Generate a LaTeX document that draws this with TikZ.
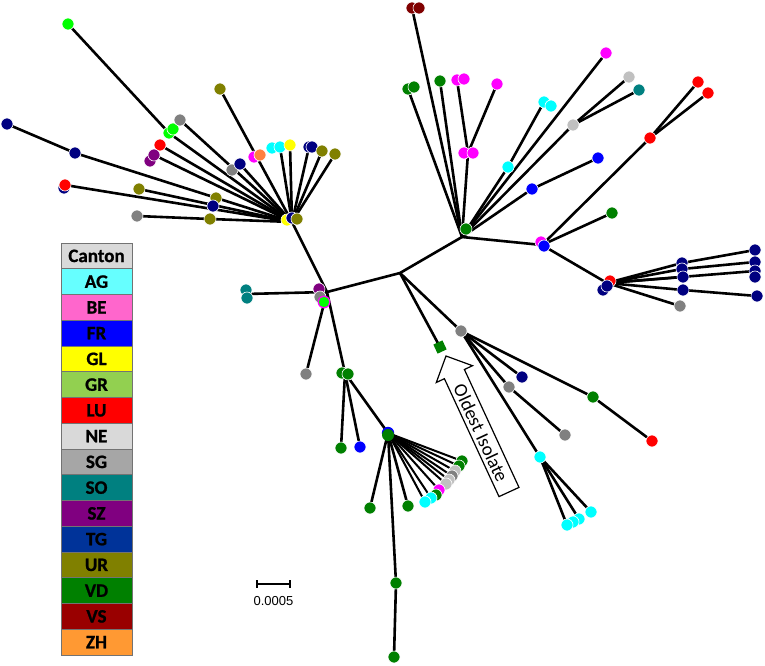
\documentclass[tikz,border=0pt]{standalone}
\usepackage{fontspec}
\setmainfont{Carlito}
\newfontfamily\legfont{Carlito}[BoldFeatures={FakeBold=1}]
\newfontfamily\arialf{Liberation Sans}
\definecolor{AGc}{HTML}{00FFFF}
\definecolor{BEc}{HTML}{FF00FF}
\definecolor{FRc}{HTML}{0000FF}
\definecolor{GLc}{HTML}{FFFF00}
\definecolor{GRc}{HTML}{00FF00}
\definecolor{LUc}{HTML}{FF0000}
\definecolor{NEc}{HTML}{C0C0C0}
\definecolor{SGc}{HTML}{808080}
\definecolor{SOc}{HTML}{008080}
\definecolor{SZc}{HTML}{800080}
\definecolor{TGc}{HTML}{000080}
\definecolor{URc}{HTML}{808000}
\definecolor{VDc}{HTML}{008000}
\definecolor{VSc}{HTML}{800000}
\definecolor{ZHc}{HTML}{FF8040}
\definecolor{LgCanton}{HTML}{D9D9D9}
\definecolor{LgAG}{HTML}{66FFFF}
\definecolor{LgBE}{HTML}{FF66CC}
\definecolor{LgFR}{HTML}{0000FF}
\definecolor{LgGL}{HTML}{FFFF00}
\definecolor{LgGR}{HTML}{92D050}
\definecolor{LgLU}{HTML}{FF0000}
\definecolor{LgNE}{HTML}{D9D9D9}
\definecolor{LgSG}{HTML}{A6A6A6}
\definecolor{LgSO}{HTML}{008080}
\definecolor{LgSZ}{HTML}{800080}
\definecolor{LgTG}{HTML}{003399}
\definecolor{LgUR}{HTML}{808000}
\definecolor{LgVD}{HTML}{008000}
\definecolor{LgVS}{HTML}{990000}
\definecolor{LgZH}{HTML}{FF9933}
\tikzset{
  edge/.style={line width=2.6pt, black},
  dotp/.style={draw=white, line width=0.6pt},
  legcell/.style={rectangle, draw=black!55, line width=0.7pt, minimum width=71pt, minimum height=25.75pt, inner sep=0pt, font=\legfont\bfseries\fontsize{19}{19}\selectfont, text=black},
}
\begin{document}
\begin{tikzpicture}[x=1pt,y=-1pt]
\useasboundingbox (0,0) rectangle (765,666);
% ---- internal coordinates
\coordinate (C) at (400,273);
\coordinate (H1) at (462,237);
\coordinate (J2) at (542,245);
\coordinate (HR) at (607,283);
\coordinate (HL) at (292,222);
\coordinate (J3) at (327,292);
\coordinate (G1) at (345,373);
\coordinate (H2) at (388,433);
\coordinate (GM) at (461,331);
% ---- top right (H1)
\coordinate (vs1) at (412,8); \coordinate (vs2) at (419,8);
\coordinate (gp1) at (408,89); \coordinate (gp2) at (414,87);
\coordinate (g3) at (440,81);
\coordinate (mb) at (468,153); \coordinate (mb1) at (464,153); \coordinate (mb2) at (473,153);
\coordinate (m1) at (457,80); \coordinate (m1b) at (464,79); \coordinate (m2) at (497,84);
\coordinate (c1) at (508,167); \coordinate (c2) at (544,102); \coordinate (c3) at (551,106);
\coordinate (m3) at (606,53);
\coordinate (s1) at (573,125); \coordinate (s2) at (629,77); \coordinate (t1) at (639,90);
\coordinate (b1) at (532,189); \coordinate (b2) at (598,158);
\coordinate (g4) at (466,229);
% ---- J2
\coordinate (m4) at (541,242); \coordinate (b3) at (544,246);
\coordinate (r1) at (650,138); \coordinate (r2) at (698,82); \coordinate (r3) at (708,93);
\coordinate (g5) at (612,213);
% ---- right cluster
\coordinate (hr1) at (603,290); \coordinate (hr2) at (607,286); \coordinate (r4) at (610,281);
\coordinate (na) at (682,263); \coordinate (nb) at (682,269);
\coordinate (n1) at (755,250); \coordinate (n2) at (755,262); \coordinate (n3) at (755,271); \coordinate (n4) at (755,277);
\coordinate (n5) at (683,277); \coordinate (n6) at (683,290); \coordinate (n7) at (757,296);
\coordinate (sgr) at (680,306);
% ---- top left (HL)
\coordinate (lm1) at (68,24); \coordinate (lm2) at (169,133); \coordinate (lm3) at (173,129);
\coordinate (sg1) at (180,120); \coordinate (sg2) at (232,170);
\coordinate (ol1) at (220,89); \coordinate (mg) at (254,157); \coordinate (zh) at (260,155);
\coordinate (tg1) at (7,124); \coordinate (tg2) at (75,153); \coordinate (ol2) at (216,198);
\coordinate (lu1) at (160,145);
\coordinate (sz1) at (150,161); \coordinate (sz2) at (154,155);
\coordinate (tg3) at (240,164);
\coordinate (ag1) at (272,148); \coordinate (ag2) at (280,147);
\coordinate (gl1) at (290,145);
\coordinate (tg4) at (309,147); \coordinate (tg4b) at (312,147);
\coordinate (ol3) at (322,151); \coordinate (ol4) at (335,154);
\coordinate (tg5) at (64,188); \coordinate (lu2) at (65,185); \coordinate (tg6) at (213,206);
\coordinate (ol5) at (139,189);
\coordinate (sg3) at (137,216); \coordinate (ol6) at (210,219);
\coordinate (gl2) at (287,220); \coordinate (tg7) at (292,218); \coordinate (ol7) at (297,219);
% ---- central left (J3)
\coordinate (so1) at (246,290); \coordinate (so2) at (247,298); \coordinate (so) at (246,294);
\coordinate (sg4) at (306,374);
\coordinate (sz3) at (319,289); \coordinate (sg5) at (320,297); \coordinate (gr1) at (324,302);
% ---- lower (G1, H2)
\coordinate (g1a) at (342,373); \coordinate (g1b) at (348,374);
\coordinate (v1) at (341,448); \coordinate (fr1) at (360,447);
\coordinate (v2) at (370,508); \coordinate (v3) at (408,506);
\coordinate (v4) at (396,583); \coordinate (v5) at (394,657);
\coordinate (a1) at (425,502); \coordinate (a2) at (431,498); \coordinate (a3) at (436,495);
\coordinate (a4) at (439,490); \coordinate (a5) at (446,484); \coordinate (a6) at (449,480);
\coordinate (a7) at (452,476); \coordinate (a8) at (455,471); \coordinate (a9) at (459,466);
\coordinate (a10) at (462,461);
% ---- mid right (GM)
\coordinate (sq) at (440,347);
\coordinate (tg8) at (522,377);
\coordinate (sg6) at (509,387); \coordinate (sg7) at (565,435);
\coordinate (v6) at (593,397); \coordinate (lu3) at (652,441);
\coordinate (ag3) at (540,457);
\coordinate (ag4) at (567,525); \coordinate (ag5) at (573,522); \coordinate (ag6) at (579,519); \coordinate (ag7) at (591,512);

% ================= edges
\draw[edge] (C) -- (H1);
\draw[edge] (C) -- (J3);
\draw[edge] (C) -- (GM);
\draw[edge] (C) -- (sq);
\draw[edge] (H1) -- (J2);
\foreach \e in {vs1,gp1,g3,mb,c1,m3,s1,b1}{\draw[edge] (H1) -- (\e);}
\draw[edge] (mb) -- (m1);
\draw[edge] (mb) -- (m2);
\draw[edge] (c1) -- (c2);
\draw[edge] (s1) -- (s2);
\draw[edge] (s1) -- (t1);
\draw[edge] (b1) -- (b2);
\draw[edge] (J2) -- (HR);
\draw[edge] (J2) -- (r1);
\draw[edge] (r1) -- (r2);
\draw[edge] (r1) -- (r3);
\draw[edge] (J2) -- (g5);
\draw[edge] (HR) -- (na) -- (n1);
\draw[edge] (HR) -- (nb) -- (n2);
\draw[edge] (HR) -- (n3);
\draw[edge] (HR) -- (n5);
\draw[edge] (HR) -- (n6) -- (n7);
\draw[edge] (HR) -- (sgr);
\draw[edge] (HL) -- (lm2) -- (lm1);
\foreach \e in {sg1,ol1,lu1,sz2,tg3,ag2,gl1,tg4,ol3,ol4,lu2,ol5}{\draw[edge] (HL) -- (\e);}
\draw[edge] (HL) -- (tg2) -- (tg1);
\draw[edge] (HL) -- (ol6) -- (sg3);
\draw[edge] (HL) -- (J3);
\draw[edge] (J3) -- (so);
\draw[edge] (J3) -- (sg4);
\draw[edge] (J3) -- (G1);
\draw[edge] (G1) -- (v1);
\draw[edge] (G1) -- (fr1);
\draw[edge] (G1) -- (H2);
\draw[edge] (H2) -- (v2);
\draw[edge] (H2) -- (v3);
\draw[edge] (H2) -- (v4) -- (v5);
\foreach \e in {a1,a2,a4,a5,a6,a7,a8,a9,a10}{\draw[line width=2pt] (H2) -- (\e);}
\draw[edge] (GM) -- (tg8);
\draw[edge] (GM) -- (sg6) -- (sg7);
\draw[edge] (GM) -- (v6) -- (lu3);
\draw[edge] (GM) -- (ag3);
\draw[edge] (ag3) -- (ag4);
\draw[edge] (ag3) -- (ag6);
\draw[edge] (ag3) -- (ag7);

% ================= dots
\foreach \n/\c in {
  vs1/VSc, vs2/VSc, gp1/VDc, gp2/VDc, g3/VDc, m1/BEc, m1b/BEc, m2/BEc, mb1/BEc, mb2/BEc,
  c2/AGc, c3/AGc, c1/AGc, m3/BEc, s2/NEc, t1/SOc, s1/NEc, b2/FRc, b1/FRc, g4/VDc,
  m4/BEc, b3/FRc, r1/LUc, r2/LUc, r3/LUc, g5/VDc,
  r4/LUc, hr1/TGc, hr2/TGc, na/TGc, nb/TGc, n1/TGc, n2/TGc, n3/TGc, n4/TGc, n5/TGc, n6/TGc, n7/TGc, sgr/SGc,
  lm1/GRc, lm2/GRc, lm3/GRc, sg1/SGc, sg2/SGc, ol1/URc, mg/BEc, zh/ZHc,
  tg1/TGc, tg2/TGc, ol2/URc, lu1/LUc, sz1/SZc, sz2/SZc, tg3/TGc,
  ag1/AGc, ag2/AGc, gl1/GLc, tg4/TGc, tg4b/TGc, ol3/URc, ol4/URc,
  tg5/TGc, lu2/LUc, tg6/TGc, ol5/URc, sg3/SGc, ol6/URc,
  gl2/GLc, tg7/TGc, ol7/URc,
  so1/SOc, so2/SOc, sg4/SGc, sz3/SZc, sg5/SGc,
  g1a/VDc, g1b/VDc, v1/VDc, fr1/FRc, v2/VDc, v3/VDc, v4/VDc, v5/VDc,
  a10/VDc, a9/VDc, a8/NEc, a7/SGc, a6/NEc, a5/NEc, a4/BEc, a3/VDc, a2/AGc, a1/AGc,
  GM/SGc, tg8/TGc, sg6/SGc, sg7/SGc, v6/VDc, lu3/LUc, ag3/AGc,
  ag7/AGc, ag6/AGc, ag5/AGc, ag4/AGc}{
  \fill[dotp, fill=\c] (\n) circle (6pt);
}
\fill[BEc] (gr1) circle (6.4pt);
\fill[GRc] (gr1) circle (5.2pt);
\fill[FRc] (H2) circle (6.2pt);
\fill[VDc] (H2)++(0,2) circle (6pt);
\node[rectangle, fill=VDc, minimum size=10pt, inner sep=0pt, rotate=25] (sqn) at (sq) {};

% ================= arrow "Oldest Isolate"
\coordinate (arT) at (446,356);
\coordinate (arH1) at (472.5,365.7);
\coordinate (arS1) at (464.4,369.5);
\coordinate (arE1) at (519,487.4);
\coordinate (arE2) at (499,496.6);
\coordinate (arS2) at (444.4,378.7);
\coordinate (arH2) at (436.3,382.5);
\draw[fill=white, line width=1.2pt, line join=miter] (arT) -- (arH1) -- (arS1) -- (arE1) -- (arE2) -- (arS2) -- (arH2) -- cycle;
\node[rotate=-65.1, font=\fontsize{19}{19}\selectfont, inner sep=0pt] (oldlbl) at (481,433) {Oldest Isolate};

% ================= scale bar
\coordinate (sbL) at (257,584);
\coordinate (sbR) at (290,584);
\draw[line width=1.3pt] (sbL) -- (sbR);
\draw[line width=1.3pt] (257,580) -- (257,588);
\draw[line width=1.3pt] (290,580) -- (290,588);
\node[font=\arialf\fontsize{13}{13}\selectfont, inner sep=0pt] (sblbl) at (273.5,601) {0.0005};

% ================= legend
\foreach \i/\lab/\col in {0/Canton/LgCanton, 1/AG/LgAG, 2/BE/LgBE, 3/FR/LgFR, 4/GL/LgGL, 5/GR/LgGR, 6/LU/LgLU, 7/NE/LgNE, 8/SG/LgSG, 9/SO/LgSO, 10/SZ/LgSZ, 11/TG/LgTG, 12/UR/LgUR, 13/VD/LgVD, 14/VS/LgVS, 15/ZH/LgZH}{
  \node[legcell, fill=\col] (leg\i) at (96.5,{255.9+25.75*\i}) {\lab};
}
\end{tikzpicture}
\end{document}
